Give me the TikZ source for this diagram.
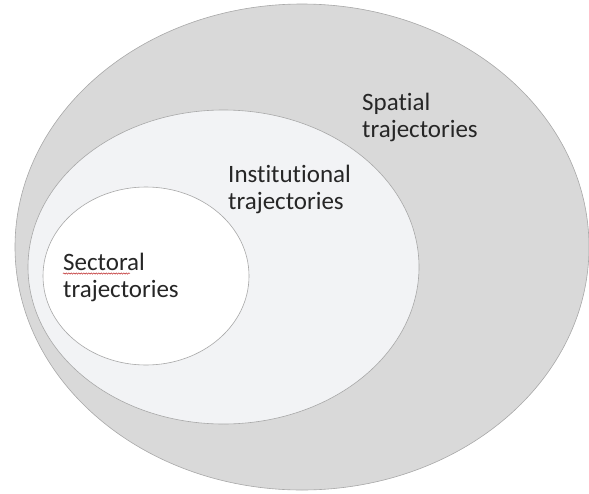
\documentclass[tikz,border=0pt]{standalone}
\usepackage{fontspec}
\setmainfont{Carlito}[Ligatures={NoCommon}]
\usetikzlibrary{shapes.geometric,decorations.pathmorphing}
\definecolor{outerfill}{HTML}{D9D9D9}
\definecolor{midfill}{HTML}{F2F3F5}
\definecolor{edgegray}{HTML}{A8A8A8}
\definecolor{txt}{HTML}{262626}
\tikzset{
  ring/.style={ellipse, draw=edgegray, line width=0.6pt, inner sep=0pt},
  lbl/.style={anchor=base west, align=left, inner sep=0pt, text=txt,
    font=\fontsize{25}{27}\selectfont},
}
\begin{document}
\begin{tikzpicture}[x=1pt,y=-1pt]
\useasboundingbox (0,0) rectangle (589,493);
\node[ring, fill=outerfill, minimum width=574pt, minimum height=486pt] (spatial) at (302,247) {};
\node[ring, fill=midfill, minimum width=391pt, minimum height=314pt] (inst) at (223.5,267) {};
\node[ring, fill=white, minimum width=206pt, minimum height=178pt] (sect) at (146,276) {};
\node[lbl] (spatialtxt) at (362,137) {Spatial\\trajectories};
\node[lbl] (insttxt) at (228,209) {Institutional\\trajectories};
\node[lbl] (secttxt) at (63,297) {Sectoral\\trajectories};
\coordinate (wavyA) at (63,273.5);
\coordinate (wavyB) at (130,273.5);
\draw[red!70!black, line width=0.4pt, decorate, decoration={snake, amplitude=0.7pt, segment length=2.5pt}] (wavyA) -- (wavyB);
\end{tikzpicture}
\end{document}
